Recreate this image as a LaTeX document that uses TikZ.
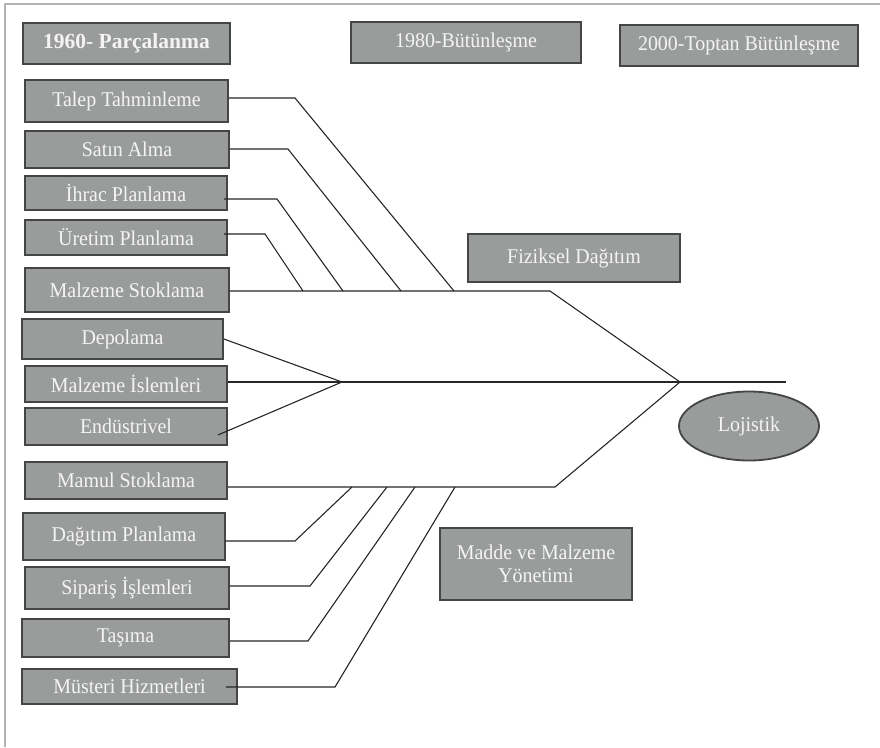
\documentclass[tikz,border=0pt]{standalone}
\usepackage{fontspec}
\setmainfont{Liberation Serif}
\newfontfamily\boxfont[FakeStretch=0.95]{Liberation Serif}
\usetikzlibrary{shapes.geometric}
\definecolor{boxgray}{HTML}{9A9C9C}
\definecolor{boxedge}{HTML}{444646}
\definecolor{txtwhite}{HTML}{F4F4F4}
\definecolor{framegray}{HTML}{B4B4B4}
\definecolor{linecol}{HTML}{262626}
\begin{document}
\begin{tikzpicture}[x=1pt,y=-1pt,
  box/.style={rectangle,draw=boxedge,fill=boxgray,line width=1.8pt,inner sep=0pt,
    text=txtwhite,font=\boxfont\fontsize{21}{23}\selectfont,align=center},
  rib/.style={draw=linecol,line width=1.1pt}]
\useasboundingbox (0,0) rectangle (880,747);
\draw[framegray,line width=2pt] (5,747) -- (5,4) -- (880,4);

% top boxes
\node[box,minimum width=207pt,minimum height=41pt,font=\fontsize{21.5}{23}\selectfont\bfseries] (p1960) at (126.5,43.5) {1960- Parçalanma};
\node[box,minimum width=230pt,minimum height=41pt] (b1980) at (466,42.5) {1980-Bütünleşme};
\node[box,minimum width=238pt,minimum height=41pt] (b2000) at (739,45.5) {2000-Toptan Bütünleşme};

% left boxes
\node[box,minimum width=203pt,minimum height=42pt] (talep) at (126.5,101) {Talep Tahminleme};
\node[box,minimum width=204pt,minimum height=37pt] (satin) at (127,149.5) {Satın Alma};
\node[box,minimum width=202pt,minimum height=34pt] (ihrac) at (126,193) {İhrac Planlama};
\node[box,minimum width=202pt,minimum height=35pt] (uretim) at (126,237.5) {Üretim Planlama};
\node[box,minimum width=204pt,minimum height=44pt] (malzstok) at (127,290) {Malzeme Stoklama};
\node[box,minimum width=201pt,minimum height=40pt] (depolama) at (122.5,339) {Depolama};
\node[box,minimum width=202pt,minimum height=36pt] (malzisl) at (126,384) {Malzeme İslemleri};
\node[box,minimum width=202pt,minimum height=37pt] (endus) at (126,426.5) {Endüstrivel};
\node[box,minimum width=202pt,minimum height=37pt] (mamul) at (126,480.5) {Mamul Stoklama};
\node[box,minimum width=202pt,minimum height=47pt] (dagitim) at (124,536.5) {Dağıtım Planlama};
\node[box,minimum width=204pt,minimum height=42pt] (siparis) at (127,588) {Sipariş İşlemleri};
\node[box,minimum width=207pt,minimum height=38pt] (tasima) at (125.5,638) {Taşıma};
\node[box,minimum width=215pt,minimum height=35pt] (musteri) at (129.5,686.5) {Müsteri Hizmetleri};

% category boxes
\node[box,minimum width=212pt,minimum height=48pt] (fiziksel) at (574,258) {Fiziksel Dağıtım};
\node[box,minimum width=192pt,minimum height=72pt] (madde) at (536,564) {Madde ve Malzeme\\Yönetimi};
\node[box,ellipse,minimum width=140pt,minimum height=69pt] (lojistik) at (749,426) {Lojistik};

% skeleton coordinates
\coordinate (head) at (680,382);
\coordinate (spineEnd) at (786,382);
\coordinate (conv) at (342,382);
\coordinate (tb1) at (550,291);
\coordinate (bb1) at (555,487);
\coordinate (t1) at (454,291);
\coordinate (t2) at (401,291);
\coordinate (t3) at (343,291);
\coordinate (t4) at (303,291);
\coordinate (b1) at (352,487);
\coordinate (b2) at (387,487);
\coordinate (b3) at (415,487);
\coordinate (b4) at (455,487);
\coordinate (r1) at (295,98);
\coordinate (r2) at (288,149);
\coordinate (r3) at (277,199);
\coordinate (r4) at (265,234);
\coordinate (r5) at (295,541);
\coordinate (r6) at (310,586);
\coordinate (r7) at (308,641);
\coordinate (r8) at (335,687);

% bones
\draw[rib] (malzstok.east |- tb1) -- (tb1) -- (head);
\draw[rib] (mamul.east |- bb1) -- (bb1) -- (head);
\draw[rib] (malzisl.east |- conv) -- (spineEnd);
\draw[rib] (depolama.east) -- (conv);
\draw[rib] ([xshift=-10pt,yshift=-8.5pt]endus.east) -- (conv);

% top ribs
\draw[rib] (talep.east |- r1) -- (r1) -- (t1);
\draw[rib] (satin.east |- r2) -- (r2) -- (t2);
\draw[rib] ([xshift=-4pt]ihrac.east |- r3) -- (r3) -- (t3);
\draw[rib] ([xshift=-4pt]uretim.east |- r4) -- (r4) -- (t4);

% bottom ribs
\draw[rib] (dagitim.east |- r5) -- (r5) -- (b1);
\draw[rib] (siparis.east |- r6) -- (r6) -- (b2);
\draw[rib] (tasima.east |- r7) -- (r7) -- (b3);
\draw[rib] ([xshift=-12pt]musteri.east |- r8) -- (r8) -- (b4);
\end{tikzpicture}
\end{document}
